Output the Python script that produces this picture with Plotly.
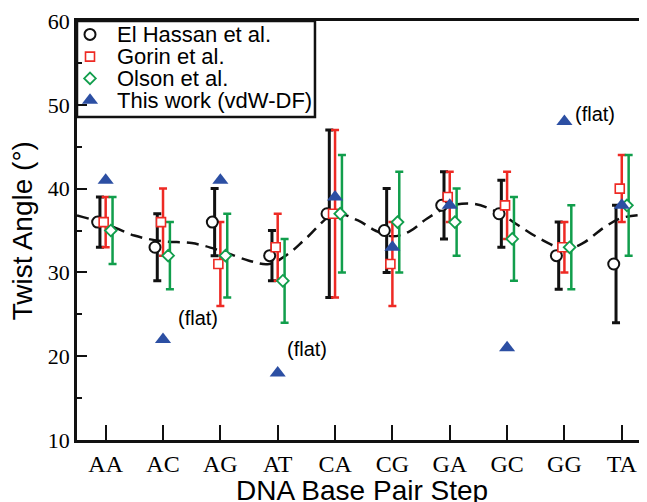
import plotly.graph_objects as go

# ---- data ----
categories = ["AA", "AC", "AG", "AT", "CA", "CG", "GA", "GC", "GG", "TA"]

elhassan = [36, 33, 36, 32, 37, 35, 38, 37, 32, 31]
elhassan_err = [3, 4, 4, 3, 10, 5, 4, 4, 4, 7]

gorin = [36, 36, 31, 33, 37, 31, 39, 38, 33, 40]
gorin_err = [3, 4, 5, 4, 10, 5, 3, 4, 3, 4]

olson = [35, 32, 32, 29, 37, 36, 36, 34, 33, 38]
olson_err = [4, 4, 5, 5, 7, 6, 4, 5, 5, 6]

vdwdf = [41, 22, 41, 18, 39, 33, 38, 21, 48, 38]

# dashed guide curve (position in category units, value)
curve_x = [-0.5, 0, 0.5, 1, 1.5, 2, 2.5, 2.85, 3.2, 3.5, 4, 4.4, 4.7, 5, 5.3,
           5.6, 6, 6.4, 6.8, 7.2, 7.5, 8, 8.3, 8.7, 9, 9.44]
curve_y = [36.8, 35.8, 34.4, 33.7, 33.5, 32.6, 31.4, 31.0, 32.3, 34.1, 37.0, 36.2,
           35.0, 34.3, 34.9, 36.4, 37.9, 38.2, 37.3, 35.6, 34.3, 32.8, 33.4, 35.4,
           36.5, 36.9]

legend_labels = ["El Hassan et al.", "Gorin et al.", "Olson et al.", "This work (vdW-DF)"]
flat_labels = ["(flat)", "(flat)", "(flat)"]

# ---- styling ----
BLACK = "#111111"
RED = "#ee2a24"
GREEN = "#119e4c"
BLUE = "#2c4fa3"
SERIF = "Liberation Serif"
SANS = "Liberation Sans"

idx = list(range(len(categories)))

fig = go.Figure()

# dashed curve
fig.add_trace(go.Scatter(
    x=curve_x, y=curve_y, mode="lines",
    line=dict(color=BLACK, width=2.5, dash="12px,7px", shape="spline", smoothing=1.0),
    hoverinfo="skip", showlegend=False))

series = [
    (elhassan, elhassan_err, BLACK, "circle", 11, 2.0, -0.14, -0.10, 3.0),
    (gorin, gorin_err, RED, "square", 9, 1.6, -0.035, 0.0, 2.5),
    (olson, olson_err, GREEN, "diamond", 9, 1.8, 0.09, 0.12, 2.5),
]

# error bars (slightly offset from the markers as in the reference)
for vals, errs, col, sym, sz, lw, moff, eoff, ew in series:
    fig.add_trace(go.Scatter(
        x=[i + eoff for i in idx], y=vals, mode="markers",
        marker=dict(size=1, opacity=0),
        error_y=dict(type="data", array=errs, visible=True, color=col,
                     thickness=ew, width=4),
        hoverinfo="skip", showlegend=False))

# markers
for vals, errs, col, sym, sz, lw, moff, eoff, ew in series:
    fig.add_trace(go.Scatter(
        x=[i + moff for i in idx], y=vals, mode="markers",
        marker=dict(symbol=sym, size=sz, color="white",
                    line=dict(color=col, width=lw)),
        showlegend=False))

fig.add_trace(go.Scatter(
    x=idx, y=vdwdf, mode="markers",
    marker=dict(symbol="triangle-up", size=14, color=BLUE, line=dict(width=0)),
    showlegend=False))

# ---- hand-built legend (overlay axes in plot-fraction units) ----
leg_syms = [("circle", 11, "white", BLACK, 2.0), ("square", 9, "white", RED, 1.6),
            ("diamond", 9, "white", GREEN, 1.8), ("triangle-up", 14, BLUE, BLUE, 0)]
leg_y = [0.968, 0.915, 0.863, 0.811]
for (sym, sz, fill, col, lw), yy in zip(leg_syms, leg_y):
    fig.add_trace(go.Scatter(
        x=[0.0228], y=[yy], mode="markers", xaxis="x2", yaxis="y2",
        marker=dict(symbol=sym, size=sz, color=fill, line=dict(color=col, width=lw)),
        hoverinfo="skip", showlegend=False))

annotations = []
for lab, yy in zip(legend_labels, leg_y):
    annotations.append(dict(
        x=0.066, y=yy, xref="paper", yref="paper", text=lab, showarrow=False,
        xanchor="left", yanchor="middle", font=dict(family=SANS, size=22, color="black")))

flat_x = [1.22, 3.13, 8.15]
flat_y = [24.6, 20.9, 48.9]
for lab, xx, yy in zip(flat_labels, flat_x, flat_y):
    annotations.append(dict(
        x=xx, y=yy, xref="x", yref="y",
        text=lab, showarrow=False, xanchor="left", yanchor="middle",
        font=dict(family=SANS, size=20, color="black")))

# axis titles
annotations.append(dict(
    x=0.5, y=-0.12, xref="paper", yref="paper", text="DNA Base Pair Step",
    showarrow=False, xanchor="center", yanchor="middle",
    font=dict(family=SANS, size=28, color="black")))
annotations.append(dict(
    x=-0.095, y=0.5, xref="paper", yref="paper", text="Twist Angle (°)",
    showarrow=False, xanchor="center", yanchor="middle", textangle=-90,
    font=dict(family=SANS, size=28, color="black")))

shapes = [dict(type="rect", xref="paper", yref="paper", x0=0, x1=0.4175, y0=0.771, y1=1.0,
               line=dict(color=BLACK, width=2.5), fillcolor="white", layer="below")]

# the page body adds an 8px offset, so the figure is 8px smaller with 8px less margin
fig.update_layout(
    width=639, height=494,
    margin=dict(l=69, r=0, t=13, b=62, autoexpand=False),
    paper_bgcolor="white", plot_bgcolor="white",
    showlegend=False,
    annotations=annotations,
    shapes=shapes,
    xaxis=dict(
        range=[-0.5, 9.44], tickmode="array", tickvals=idx, ticktext=categories,
        ticks="inside", ticklen=15, tickwidth=2, tickcolor=BLACK,
        showline=True, linecolor=BLACK, linewidth=2.5, mirror=True,
        showgrid=False, zeroline=False, automargin=False,
        tickfont=dict(family=SERIF, size=24, color="black"),
    ),
    yaxis=dict(
        range=[10, 60], tickmode="linear", tick0=10, dtick=10,
        ticks="inside", ticklen=10, tickwidth=2, tickcolor=BLACK,
        minor=dict(ticks="inside", ticklen=5, tickwidth=2, dtick=5, tick0=10, tickcolor=BLACK),
        showline=True, linecolor=BLACK, linewidth=2.5,
        showgrid=False, zeroline=False, automargin=False,
        tickfont=dict(family=SERIF, size=22, color="black"),
    ),
    xaxis2=dict(overlaying="x", anchor="y2", range=[0, 1], visible=False),
    yaxis2=dict(overlaying="y", anchor="x2", range=[0, 1], visible=False),
)

fig.write_html("out.html")
